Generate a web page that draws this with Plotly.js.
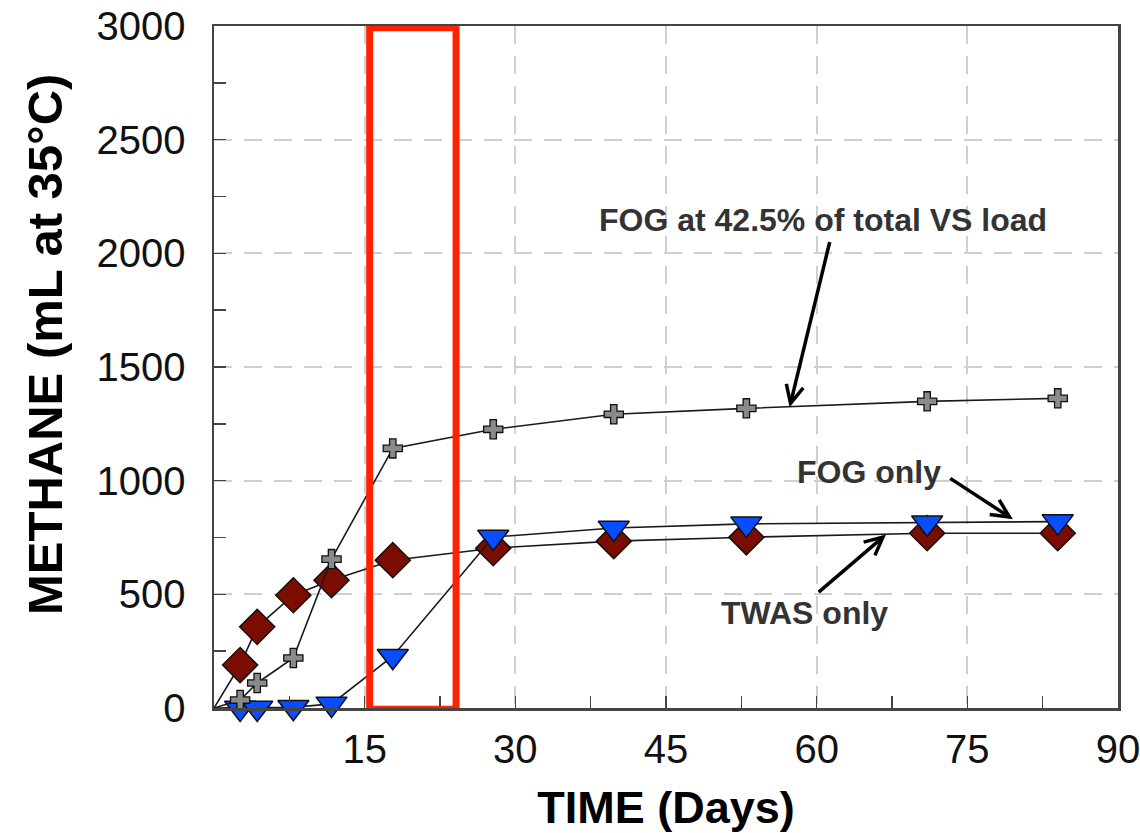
<!DOCTYPE html>
<html>
<head>
<meta charset="utf-8">
<script src="https://cdn.plot.ly/plotly-3.0.1.min.js"></script>
<style>html,body{margin:0;padding:0;background:#fff;}#chart{width:1140px;height:833px;}</style>
</head>
<body>
<div id="chart"></div>
<script>
// ---- data ----
const twasDays   = [0, 2.6, 4.3, 7.9, 11.7, 17.8, 27.8, 39.8, 53.0, 71.0, 84.0];
const twasCH4    = [0, 189, 357, 496, 562, 650, 703, 734, 751, 769, 769];

const fogDays    = [0, 2.6, 4.3, 7.9, 11.7, 17.8, 27.8, 39.8, 53.0, 71.0, 84.0];
const fogCH4     = [0, 0, 0, 3, 18, 228, 752, 792, 810, 815, 820];

const mixDays    = [0, 2.6, 4.3, 7.9, 11.7, 17.8, 27.8, 39.8, 53.0, 71.0, 84.0];
const mixCH4     = [0, 35, 110, 220, 655, 1142, 1226, 1292, 1318, 1349, 1362];

const xTickVals  = [0, 15, 30, 45, 60, 75, 90];
const xTickText  = ['', '15', '30', '45', '60', '75', '90'];

const labelMix   = 'FOG at 42.5% of total VS load';
const labelFog   = 'FOG only';
const labelTwas  = 'TWAS only';
const xTitle     = 'TIME (Days)';
const yTitle     = 'METHANE (mL at 35°C)';

// ---- geometry helpers for V-shaped arrows ----
const M = {l: 214, r: 22, t: 26, b: 125};
const W = 1140, H = 833;
const XR = [0, 90], YR = [0, 3000];
const pw = W - M.l - M.r, ph = H - M.t - M.b;
const toPx = (x, y) => [M.l + (x - XR[0]) / (XR[1] - XR[0]) * pw, M.t + ph - (y - YR[0]) / (YR[1] - YR[0]) * ph];
const toData = (px, py) => [XR[0] + (px - M.l) / pw * (XR[1] - XR[0]), YR[0] + (M.t + ph - py) / ph * (YR[1] - YR[0])];

function arrowShapes(tail, tip) {
  const [tx, ty] = toPx(tail[0], tail[1]);
  const [hx, hy] = toPx(tip[0], tip[1]);
  const ang = Math.atan2(ty - hy, tx - hx);
  const len = 20, spread = 0.45;
  const a = toData(hx + len * Math.cos(ang + spread), hy + len * Math.sin(ang + spread));
  const b = toData(hx + len * Math.cos(ang - spread), hy + len * Math.sin(ang - spread));
  const ln = {color: '#000', width: 3.5};
  return [
    {type: 'line', xref: 'x', yref: 'y', x0: tail[0], y0: tail[1], x1: tip[0], y1: tip[1], line: ln, layer: 'above'},
    {type: 'path', xref: 'x', yref: 'y', path: `M ${a[0]},${a[1]} L ${tip[0]},${tip[1]} L ${b[0]},${b[1]}`, line: ln, layer: 'above'}
  ];
}

const sizesFor = (arr, s) => arr.map((_, i) => i === 0 ? 0 : s);

const traces = [
  {
    x: twasDays, y: twasCH4, type: 'scatter', mode: 'lines+markers', name: labelTwas,
    cliponaxis: false,
    line: {color: '#1a1a1a', width: 1.6},
    marker: {symbol: 'diamond', size: sizesFor(twasDays, 27), opacity: 1, color: '#7a0c00', line: {color: '#111', width: 1.5}}
  },
  {
    x: fogDays, y: fogCH4, type: 'scatter', mode: 'lines+markers', name: labelFog,
    cliponaxis: false,
    line: {color: '#1a1a1a', width: 1.6},
    marker: {symbol: 'triangle-down', size: sizesFor(fogDays, 27), opacity: 1, color: '#0a4dff', line: {color: '#111', width: 1.5}}
  },
  {
    x: mixDays, y: mixCH4, type: 'scatter', mode: 'lines+markers', name: labelMix,
    cliponaxis: false,
    line: {color: '#1a1a1a', width: 1.6},
    marker: {symbol: 'cross', size: sizesFor(mixDays, 16), opacity: 1, color: '#8a8a8a', line: {color: '#111', width: 1.3}}
  }
];

const shapes = [
  {type: 'rect', xref: 'x', yref: 'y', x0: 15.5, x1: 24.1, y0: -5, y1: 2992,
   line: {color: '#ff2200', width: 7}, fillcolor: 'rgba(0,0,0,0)', layer: 'above'},
  ...arrowShapes([61.3, 2050], [57.4, 1340]),
  ...arrowShapes([73.3, 1010], [79.2, 840]),
  ...arrowShapes([60.2, 510], [66.6, 752])
];

const fam = 'Liberation Sans, Arial, sans-serif';
const annFont = {family: fam, size: 32, color: '#333'};
const annotations = [
  {x: 60.6, y: 2145, xref: 'x', yref: 'y', text: '<b>' + labelMix + '</b>', showarrow: false,
   font: {family: fam, size: 32, color: '#333'}},
  {x: 65.2, y: 1040, xref: 'x', yref: 'y', text: '<b>' + labelFog + '</b>', showarrow: false, font: annFont},
  {x: 58.8, y: 420, xref: 'x', yref: 'y', text: '<b>' + labelTwas + '</b>', showarrow: false, font: annFont},
  {x: (45 - M.l) / pw, y: (M.t + ph - 345) / ph, xref: 'paper', yref: 'paper', xanchor: 'center', yanchor: 'middle',
   text: '<b>' + yTitle + '</b>', textangle: -90, showarrow: false,
   font: {family: fam, size: 49, color: '#000'}}
];

const tickFont = {family: fam, size: 40, color: '#111'};
const layout = {
  width: W, height: H,
  margin: M,
  paper_bgcolor: '#fff', plot_bgcolor: '#fff',
  showlegend: false,
  xaxis: {
    range: XR, tickmode: 'array', tickvals: xTickVals, ticktext: xTickText,
    ticks: 'inside', ticklen: 12, tickwidth: 1.5, tickcolor: '#444',
    minor: {dtick: 7.5, tick0: 0, ticks: 'inside', ticklen: 12, tickwidth: 1.5, tickcolor: '#444', showgrid: false},
    showgrid: true, gridcolor: '#d0d0d0', gridwidth: 2, griddash: '18px,12px',
    showline: true, linecolor: '#444', linewidth: 2.5, mirror: true,
    zeroline: false, tickfont: tickFont, ticklabelstandoff: 4, ticklabeloverflow: 'allow',
    title: {text: '<b>' + xTitle + '</b>', font: {family: fam, size: 45, color: '#000'}, standoff: 28}
  },
  yaxis: {
    range: YR, dtick: 500, tick0: 0,
    ticks: 'inside', ticklen: 12, tickwidth: 1.5, tickcolor: '#444',
    minor: {dtick: 250, tick0: 0, ticks: 'inside', ticklen: 12, tickwidth: 1.5, tickcolor: '#444', showgrid: false},
    showgrid: true, gridcolor: '#d0d0d0', gridwidth: 2, griddash: '18px,12px',
    showline: true, linecolor: '#444', linewidth: 2.5, mirror: true,
    zeroline: false, tickfont: tickFont, ticklabelstandoff: 18, ticklabeloverflow: 'allow'
  },
  shapes: shapes,
  annotations: annotations
};

Plotly.newPlot('chart', traces, layout, {displayModeBar: false, staticPlot: true});
</script>
</body>
</html>
